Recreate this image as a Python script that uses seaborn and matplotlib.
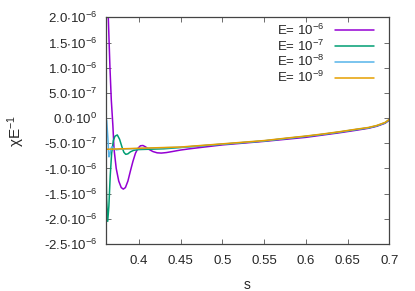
import numpy as np
import pandas as pd
import matplotlib
matplotlib.use("Agg")
import matplotlib.pyplot as plt
from matplotlib.ticker import FixedLocator, FuncFormatter
import seaborn as sns

s_e6 = [0.3610, 0.3635, 0.3655, 0.3671, 0.3690, 0.3704, 0.3730, 0.3760, 0.3790, 0.3815,
        0.3840, 0.3870, 0.3900, 0.3930, 0.3960, 0.3990, 0.4020, 0.4050, 0.4080, 0.4120,
        0.4170, 0.4220, 0.4270, 0.4330, 0.4400, 0.4500, 0.4600, 0.4700, 0.5000, 0.5500,
        0.6000, 0.6400, 0.6600, 0.6750, 0.6850, 0.6950, 0.7000]
chi_e6 = [3.0, 2.0, 1.0, 0.36, -0.15, -0.62, -1.0, -1.25, -1.38, -1.41,
          -1.38, -1.25, -1.05, -0.86, -0.70, -0.60, -0.55, -0.545, -0.57, -0.62,
          -0.665, -0.69, -0.695, -0.685, -0.665, -0.635, -0.612, -0.592, -0.533, -0.463,
          -0.383, -0.293, -0.243, -0.203, -0.163, -0.103, -0.043]

s_e7 = [0.3604, 0.3615, 0.3628, 0.3642, 0.3658, 0.3675, 0.3695, 0.3715, 0.3743, 0.3770,
        0.3800, 0.3822, 0.3844, 0.3870, 0.3900, 0.3940, 0.4000, 0.4100, 0.4300, 0.4500,
        0.5000, 0.5500, 0.5800, 0.6000, 0.6200, 0.6400, 0.6600, 0.6750, 0.6850, 0.6950, 0.7000]
chi_e7 = [-0.55, -1.6, -2.05, -1.75, -1.15, -0.70, -0.45, -0.36, -0.335, -0.42,
          -0.58, -0.68, -0.72, -0.71, -0.67, -0.64, -0.625, -0.62, -0.61, -0.585,
          -0.52, -0.455, -0.40, -0.365, -0.325, -0.28, -0.23, -0.195, -0.155, -0.095, -0.035]

s_e8 = [0.3604, 0.3616, 0.3630, 0.3643, 0.3655, 0.3668, 0.3680, 0.3700, 0.3730, 0.3770,
        0.3800, 0.4000, 0.4500, 0.5000, 0.5500, 0.5800, 0.6000, 0.6200, 0.6400, 0.6600,
        0.6750, 0.6850, 0.6950, 0.7000]
chi_e8 = [0.0, -0.05, -0.40, -0.77, -0.72, -0.60, -0.57, -0.60, -0.63, -0.62,
          -0.615, -0.605, -0.58, -0.517, -0.452, -0.397, -0.362, -0.322, -0.277, -0.227,
          -0.192, -0.152, -0.092, -0.032]

s_e9 = [0.3604, 0.3700, 0.4000, 0.4500, 0.5000, 0.5500, 0.5800, 0.6000, 0.6200, 0.6400,
        0.6600, 0.6750, 0.6850, 0.6950, 0.7000]
chi_e9 = [-0.62, -0.615, -0.60, -0.575, -0.512, -0.447, -0.392, -0.357, -0.317, -0.272,
          -0.222, -0.187, -0.147, -0.087, -0.027]

labels = ["E= $\\mathregular{10^{-6}}$", "E= $\\mathregular{10^{-7}}$",
          "E= $\\mathregular{10^{-8}}$", "E= $\\mathregular{10^{-9}}$"]
colors = ["#9400d3", "#009e73", "#56b4e9", "#e69f00"]

frames = []
for lab, s, c in zip(labels, [s_e6, s_e7, s_e8, s_e9], [chi_e6, chi_e7, chi_e8, chi_e9]):
    frames.append(pd.DataFrame({"s": s, "chi": np.array(c) * 1e-6, "E": lab}))
df = pd.concat(frames, ignore_index=True)

sns.set_theme(style="ticks")
plt.rcParams["font.family"] = ["Liberation Sans", "DejaVu Sans"]
plt.rcParams["mathtext.fontset"] = "custom"
plt.rcParams["mathtext.rm"] = "Liberation Sans"
plt.rcParams["mathtext.it"] = "Liberation Sans:italic"
plt.rcParams["axes.unicode_minus"] = False
plt.rcParams["font.size"] = 9.5

fig = plt.figure(figsize=(4.15, 2.91), dpi=100)
ax = fig.add_axes([0.2547, 0.1615, 0.9380 - 0.2547, 0.9405 - 0.1615])
sns.lineplot(data=df, x="s", y="chi", hue="E", palette=colors, sort=False,
             estimator=None, lw=1.1, ax=ax)

ax.set_xlim(0.3604, 0.7)
ax.set_ylim(-2.5e-6, 2.0e-6)
ax.xaxis.set_major_locator(FixedLocator([0.4, 0.45, 0.5, 0.55, 0.6, 0.65, 0.7]))
ax.xaxis.set_major_formatter(FuncFormatter(lambda v, p: "%g" % round(v, 2)))
yt = [-2.5, -2.0, -1.5, -1.0, -0.5, 0.0, 0.5, 1.0, 1.5, 2.0]
ax.yaxis.set_major_locator(FixedLocator([v * 1e-6 for v in yt]))


def yfmt(v, p):
    m = v * 1e6
    if abs(m) < 1e-9:
        return "0.0$\\mathregular{\\cdot10^{0}}$"
    if abs(m) < 1:
        return "%.1f$\\mathregular{\\cdot10^{-7}}$" % (m * 10)
    return "%.1f$\\mathregular{\\cdot10^{-6}}$" % m


ax.yaxis.set_major_formatter(FuncFormatter(yfmt))
ax.tick_params(direction="in", length=3.5, width=0.6, color="#555555",
               top=True, right=True, labelsize=9.5, pad=6)
ax.tick_params(axis="x", pad=8)
for sp in ax.spines.values():
    sp.set_color("#444444")
    sp.set_linewidth(0.9)

ax.set_xlabel("s", fontsize=10, labelpad=8)
ax.set_ylabel("$\\mathregular{\\chi E^{-1}}$", fontsize=11, labelpad=12)

leg = ax.legend(loc="upper right", bbox_to_anchor=(0.975, 1.012), frameon=False,
                markerfirst=False, handlelength=3.0, handletextpad=0.8,
                labelspacing=0.05, fontsize=9.5, borderaxespad=0.2)
for t in leg.get_texts():
    t.set_ha("right")

fig.savefig("out.png", dpi=100)
